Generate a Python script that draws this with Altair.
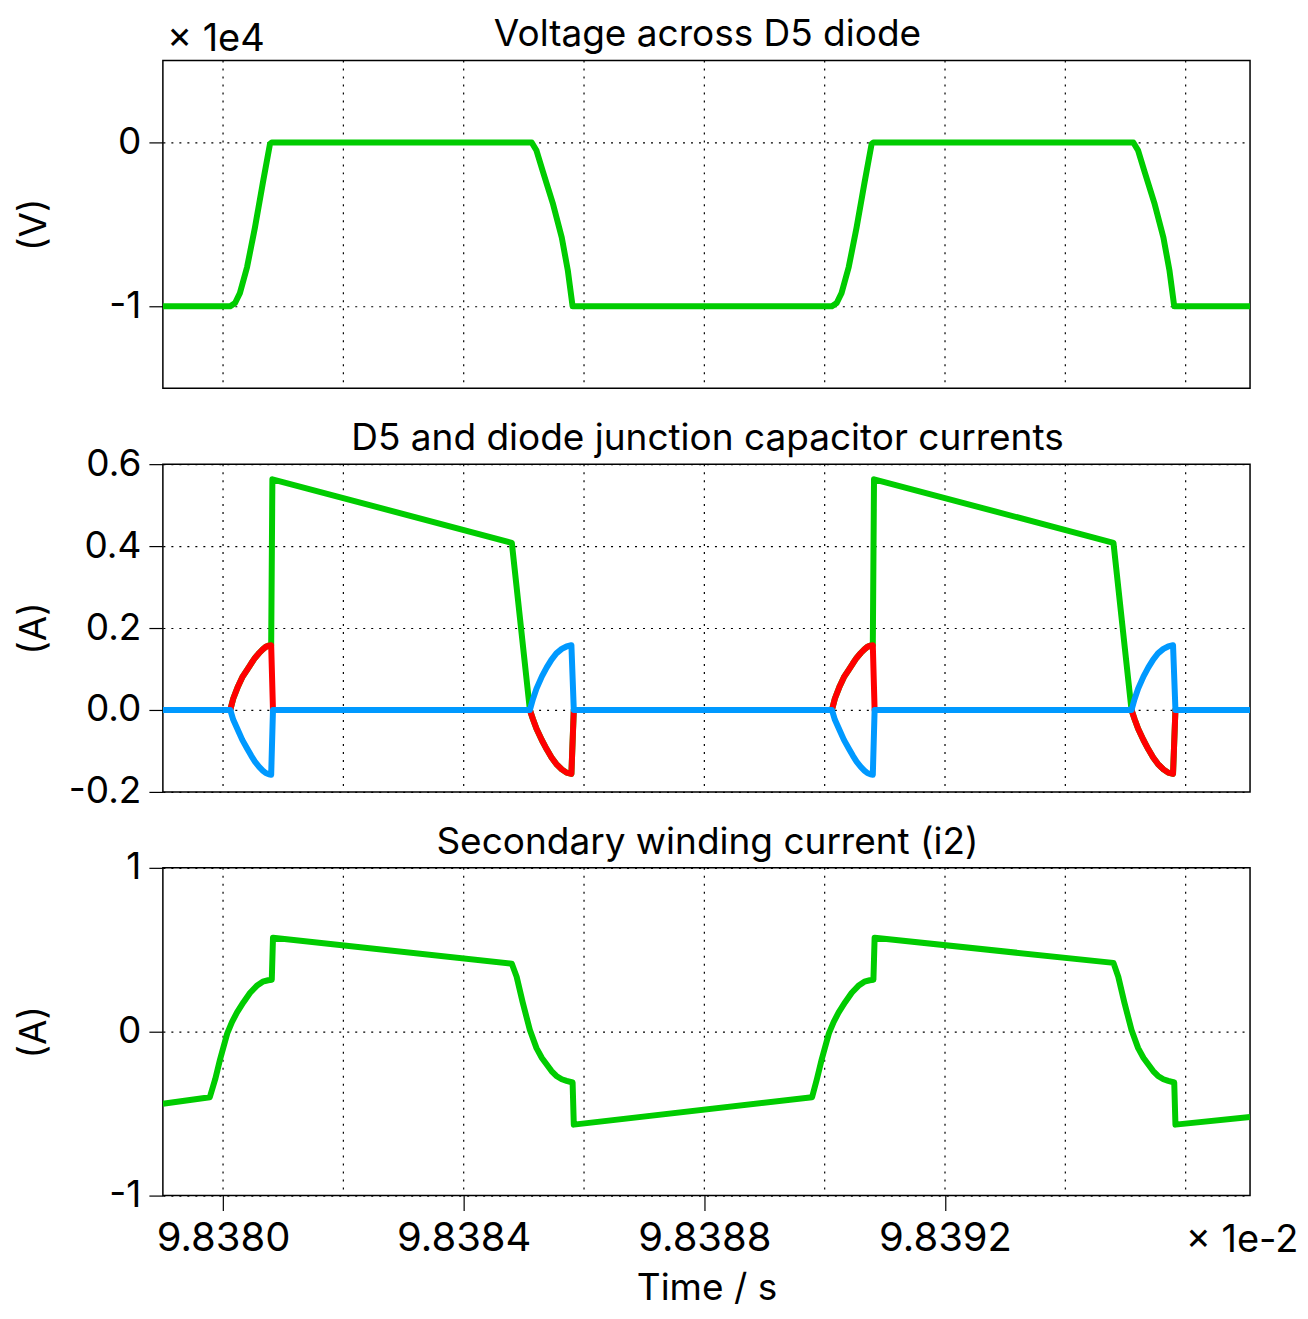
import altair as alt
import pandas as pd

# ---- data (time in units of 1e-2 s, as shown on the axis) ----
# Panel 1: voltage across D5 (x 1e4 V)
v_t = [9.837900, 9.838012, 9.838020, 9.838028, 9.838040, 9.838053, 9.838066, 9.838078, 9.838081,
       9.838513, 9.838521, 9.838531, 9.838548, 9.838563, 9.838573, 9.838581,
       9.839012, 9.839020, 9.839028, 9.839040, 9.839053, 9.839066, 9.839078, 9.839081,
       9.839513, 9.839521, 9.839531, 9.839548, 9.839563, 9.839573, 9.839581, 9.839707]
v_val = [-1.0, -1.0, -0.98, -0.92, -0.76, -0.52, -0.25, -0.01, 0.0,
         0.0, -0.05, -0.17, -0.37, -0.58, -0.78, -1.0,
         -1.0, -0.98, -0.92, -0.76, -0.52, -0.25, -0.01, 0.0,
         0.0, -0.05, -0.17, -0.37, -0.58, -0.78, -1.0, -1.0]

# Panel 2: junction capacitor currents (red, blue) and D5 current (green)
c_t = [9.837900, 9.838012, 9.838017, 9.838025, 9.838032, 9.838040, 9.838047, 9.838053,
       9.838060, 9.838066, 9.838071, 9.838076, 9.838080, 9.838083,
       9.838510, 9.838515, 9.838521, 9.838530, 9.838538, 9.838546, 9.838554, 9.838563,
       9.838571, 9.838579, 9.838583,
       9.839012, 9.839017, 9.839025, 9.839032, 9.839040, 9.839047, 9.839053,
       9.839060, 9.839066, 9.839071, 9.839076, 9.839080, 9.839083,
       9.839510, 9.839515, 9.839521, 9.839530, 9.839538, 9.839546, 9.839554, 9.839563,
       9.839571, 9.839579, 9.839583, 9.839707]
r_val = [0.0, 0.0, 0.028, 0.058, 0.080, 0.098, 0.114, 0.127,
         0.139, 0.148, 0.154, 0.157, 0.158, 0.0,
         0.0, -0.022, -0.046, -0.074, -0.096, -0.116, -0.132, -0.145,
         -0.153, -0.156, 0.0,
         0.0, 0.028, 0.058, 0.080, 0.098, 0.114, 0.127,
         0.139, 0.148, 0.154, 0.157, 0.158, 0.0,
         0.0, -0.022, -0.046, -0.074, -0.096, -0.116, -0.132, -0.145,
         -0.153, -0.156, 0.0, 0.0]
b_val = [0.0, 0.0, -0.024, -0.050, -0.073, -0.094, -0.112, -0.126,
         -0.139, -0.148, -0.154, -0.157, -0.158, 0.0,
         0.0, 0.026, 0.052, 0.082, 0.104, 0.123, 0.138, 0.149,
         0.155, 0.158, 0.0,
         0.0, -0.024, -0.050, -0.073, -0.094, -0.112, -0.126,
         -0.139, -0.148, -0.154, -0.157, -0.158, 0.0,
         0.0, 0.026, 0.052, 0.082, 0.104, 0.123, 0.138, 0.149,
         0.155, 0.158, 0.0, 0.0]

g_t = [9.837900, 9.838012, 9.838017, 9.838025, 9.838032, 9.838040, 9.838047, 9.838053,
       9.838060, 9.838066, 9.838071, 9.838076, 9.838080, 9.838082, 9.838480,
       9.838510, 9.838515, 9.838521, 9.838530, 9.838538, 9.838546, 9.838554, 9.838563,
       9.838571, 9.838579, 9.838583,
       9.839012, 9.839017, 9.839025, 9.839032, 9.839040, 9.839047, 9.839053,
       9.839060, 9.839066, 9.839071, 9.839076, 9.839080, 9.839082, 9.839480,
       9.839510, 9.839515, 9.839521, 9.839530, 9.839538, 9.839546, 9.839554, 9.839563,
       9.839571, 9.839579, 9.839583, 9.839707]
g_val = [0.0, 0.0, 0.028, 0.058, 0.080, 0.098, 0.114, 0.127,
         0.139, 0.148, 0.154, 0.157, 0.158, 0.563, 0.408,
         0.0, -0.022, -0.046, -0.074, -0.096, -0.116, -0.132, -0.145,
         -0.153, -0.156, 0.0,
         0.0, 0.028, 0.058, 0.080, 0.098, 0.114, 0.127,
         0.139, 0.148, 0.154, 0.157, 0.158, 0.563, 0.408,
         0.0, -0.022, -0.046, -0.074, -0.096, -0.116, -0.132, -0.145,
         -0.153, -0.156, 0.0, 0.0]

# Panel 3: secondary winding current i2 (A)
i_t = [9.837900, 9.837978, 9.837987, 9.837995, 9.838007, 9.838015, 9.838023, 9.838034, 9.838045,
       9.838056, 9.838066, 9.838075, 9.838081, 9.838083,
       9.838480, 9.838488, 9.838498, 9.838510, 9.838521, 9.838530, 9.838538, 9.838546, 9.838554,
       9.838563, 9.838571, 9.838581, 9.838583,
       9.838979, 9.838987, 9.838995, 9.839007, 9.839015, 9.839023, 9.839034, 9.839045,
       9.839056, 9.839066, 9.839075, 9.839081, 9.839083,
       9.839480, 9.839488, 9.839498, 9.839510, 9.839521, 9.839530, 9.839538, 9.839546, 9.839554,
       9.839563, 9.839571, 9.839581, 9.839583,
       9.839707]
i_val = [-0.44, -0.40, -0.29, -0.17, -0.01, 0.06, 0.116, 0.18, 0.238,
         0.28, 0.305, 0.314, 0.317, 0.573,
         0.415, 0.335, 0.18, 0.01, -0.10, -0.16, -0.20, -0.24, -0.27,
         -0.29, -0.30, -0.31, -0.567,
         -0.40, -0.29, -0.17, -0.01, 0.06, 0.116, 0.18, 0.238,
         0.28, 0.305, 0.314, 0.317, 0.573,
         0.42, 0.335, 0.18, 0.01, -0.10, -0.16, -0.20, -0.24, -0.27,
         -0.29, -0.30, -0.31, -0.567,
         -0.52]

x_domain = [9.837900, 9.839707]
x_grid = [9.8380, 9.8382, 9.8384, 9.8386, 9.8388, 9.8390, 9.8392, 9.8394, 9.8396]
x_ticks = [9.8380, 9.8384, 9.8388, 9.8392]

titles = ["Voltage across D5 diode",
          "D5 and diode junction capacitor currents",
          "Secondary winding current (i2)"]
y_titles = ["(V)", "(A)", "(A)"]
y_domains = [[-1.5, 0.5], [-0.2, 0.6], [-1, 1]]
y_ticks = [[-1, 0], [-0.2, 0.0, 0.2, 0.4, 0.6], [-1, 0, 1]]
y_formats = [".0f", ".1f", ".0f"]

GREEN, RED, BLUE = "#00CC00", "#FF0000", "#0099FF"
FONT = "Inter"
W, H = 1088, 328


def xscale():
    return alt.Scale(domain=x_domain, nice=False, zero=False)


def xenc(bottom):
    if bottom:
        ax = alt.Axis(values=x_ticks, format=".4f", grid=False, domain=False,
                      tickSize=15, tickColor="black", tickWidth=1.2,
                      labelFontSize=40, labelPadding=8, labelColor="black",
                      title="Time / s", titleFontSize=37, titleFontWeight="normal",
                      titlePadding=12, titleColor="black")
    else:
        ax = alt.Axis(labels=False, ticks=False, grid=False, domain=False, title=None)
    return alt.X("t:Q", scale=xscale(), axis=ax)


def yenc(i):
    expr = "replace(format(datum.value, '%s'), '\u2212', '-')" % y_formats[i]
    ax = alt.Axis(values=y_ticks[i], labelExpr=expr, grid=True, gridDash=[2, 6],
                  gridColor="black", gridWidth=1.2, domain=False,
                  tickSize=14, tickColor="black", tickWidth=1.2,
                  labelFontSize=37, labelPadding=8, labelColor="black",
                  title=y_titles[i], titleFontSize=37, titleFontWeight="normal",
                  titleColor="black", titleAngle=-90, titleX=-128, titleY=H / 2,
                  titleAlign="center", titleBaseline="middle")
    return alt.Y("v:Q", scale=alt.Scale(domain=y_domains[i], nice=False, zero=False), axis=ax)


def panel(i, series, bottom=False, extra=None):
    grid = alt.Chart(pd.DataFrame({"g": x_grid})).mark_rule(
        color="black", strokeWidth=1.2, strokeDash=[2, 6]
    ).encode(x=alt.X("g:Q", scale=xscale()))
    layers = [grid]
    for t, v, col in series:
        df = pd.DataFrame({"t": t, "v": v, "o": list(range(len(t)))})
        layers.append(
            alt.Chart(df).mark_line(color=col, strokeWidth=6, strokeJoin="round", clip=True)
            .encode(x=xenc(bottom), y=yenc(i), order="o:Q")
        )
    ttl = alt.Chart(pd.DataFrame({"s": [titles[i]]})).mark_text(
        font=FONT, fontSize=37, align="center", baseline="alphabetic", color="black"
    ).encode(x=alt.value(W / 2 + 1), y=alt.value(-14), text="s:N")
    layers.append(ttl)
    if extra is not None:
        layers.extend(extra)
    return alt.layer(*layers).properties(width=W, height=H)


exp_top = alt.Chart(pd.DataFrame({"s": ["\u00d7 1e4"]})).mark_text(
    font=FONT, fontSize=38, align="left", baseline="alphabetic", color="black"
).encode(x=alt.value(4), y=alt.value(-9), text="s:N")

exp_bot = alt.Chart(pd.DataFrame({"s": ["\u00d7 1e-2"], "t": [9.8396]})).mark_text(
    font=FONT, fontSize=38, align="left", baseline="alphabetic", color="black"
).encode(x=alt.X("t:Q", scale=xscale()), y=alt.value(H + 56), text="s:N")

p1 = panel(0, [(v_t, v_val, GREEN)], extra=[exp_top])
p2 = panel(1, [(g_t, g_val, GREEN), (c_t, r_val, RED), (c_t, b_val, BLUE)])
p3 = panel(2, [(i_t, i_val, GREEN)], bottom=True, extra=[exp_bot])

chart = alt.vconcat(p1, p2, p3, spacing=76, bounds="flush").properties(
    padding={"left": 7, "top": 7, "right": 0, "bottom": 0}
).configure_view(
    stroke="black", strokeWidth=1.5
).configure_axis(
    labelFont=FONT, titleFont=FONT
).configure_text(font=FONT)

chart.save("out.html", embed_options={"renderer": "svg", "actions": False})
